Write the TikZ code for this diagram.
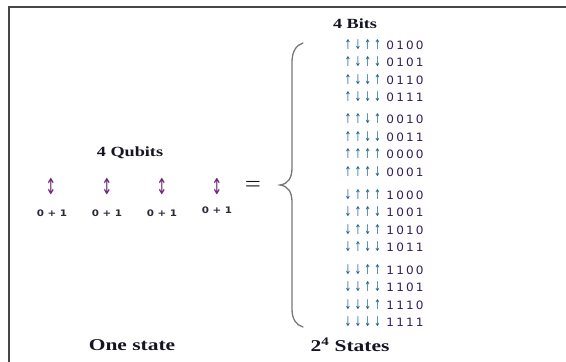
\documentclass[tikz,border=0pt]{standalone}
\usepackage{fontspec}
\setmainfont{Liberation Serif}
\newfontfamily\titlefont[FakeStretch=1.3]{Liberation Serif}
\newfontfamily\digitfont[FakeStretch=1.05]{DejaVu Sans}
\newfontfamily\arrowfont[FakeStretch=0.6]{DejaVu Sans}
\newfontfamily\labelfont[FakeStretch=1.15]{DejaVu Sans}

\definecolor{framec}{RGB}{70,70,70}
\definecolor{bracec}{RGB}{120,120,120}
\definecolor{arrowc}{RGB}{25,95,140}
\definecolor{digitc}{RGB}{50,30,90}
\definecolor{qubitc}{RGB}{110,40,115}
\definecolor{labelc}{RGB}{45,40,55}
\definecolor{titlec}{RGB}{20,20,35}

% one fixed-width cell per glyph, so every column lines up
\newcommand\bitcell[1]{\makebox[9.8pt]{#1}}
\def\fourcells#1#2#3#4{\bitcell{#1}\bitcell{#2}\bitcell{#3}\bitcell{#4}}
\newcommand\spinrow[2]{{\arrowfont\fontsize{13.5}{15}\selectfont\color{arrowc}\fourcells#1}\hspace{3pt}{\digitfont\fontsize{11.5}{13}\selectfont\color{digitc}\fourcells#2}}

\tikzset{
  title/.style={font=\titlefont\bfseries\fontsize{14}{16}\selectfont, text=titlec, inner sep=0pt},
  caption/.style={font=\titlefont\bfseries\fontsize{16.5}{19}\selectfont, text=titlec, inner sep=0pt},
  staterow/.style={inner sep=0pt, anchor=base west},
  qubit/.style={font=\arrowfont\fontsize{22}{24}\selectfont, text=qubitc, inner sep=0pt},
  superpos/.style={font=\labelfont\bfseries\fontsize{9}{11}\selectfont, text=labelc, inner sep=0pt},
}

\begin{document}
\begin{tikzpicture}[x=1pt,y=-1pt]
\useasboundingbox (0,0) rectangle (566,362);

% frame: only the top and left edges fall inside the picture
\draw[framec, line width=1.5pt] (9,362) -- (9,7) -- (566,7);

% left side: four qubits
\node[title] (qtitle) at (130,153) {4 Qubits};
\foreach \x/\n in {51/1,107/2,162/3,217/4} {
  \node[qubit] (q\n) at (\x,187) {↕};
}
\node[superpos] (s1) at (52,213) {0 + 1};
\node[superpos] (s2) at (107,213) {0 + 1};
\node[superpos] (s3) at (162,213) {0 + 1};
\node[superpos] (s4) at (217,210) {0 + 1};
\node[font=\titlefont\fontsize{22}{24}\selectfont, text=titlec, inner sep=0pt] (eq) at (253,186) {=};

% curly brace gathering the sixteen states
\draw[bracec, line width=1.3pt, line cap=round]
  (303,43) .. controls (296,45) and (292,52) .. (292,62)
  -- (292,168) .. controls (292,178) and (288,184) .. (280,185)
  .. controls (288,186) and (292,192) .. (292,202)
  -- (292,309) .. controls (292,319) and (296,325) .. (303,327);

% right side: the sixteen classical states
\node[title] (btitle) at (355,24) {4 Bits};

\node[staterow] (r1)  at (343,49)  {\spinrow{↑↓↑↑}{0100}};
\node[staterow] (r2)  at (343,66)  {\spinrow{↑↓↑↓}{0101}};
\node[staterow] (r3)  at (343,84)  {\spinrow{↑↓↓↑}{0110}};
\node[staterow] (r4)  at (343,101) {\spinrow{↑↓↓↓}{0111}};

\node[staterow] (r5)  at (343,123) {\spinrow{↑↑↓↑}{0010}};
\node[staterow] (r6)  at (343,141) {\spinrow{↑↑↓↓}{0011}};
\node[staterow] (r7)  at (343,158) {\spinrow{↑↑↑↑}{0000}};
\node[staterow] (r8)  at (343,176) {\spinrow{↑↑↑↓}{0001}};

\node[staterow] (r9)  at (343,199) {\spinrow{↓↑↑↑}{1000}};
\node[staterow] (r10) at (343,216) {\spinrow{↓↑↑↓}{1001}};
\node[staterow] (r11) at (343,234) {\spinrow{↓↑↓↑}{1010}};
\node[staterow] (r12) at (343,251) {\spinrow{↓↑↓↓}{1011}};

\node[staterow] (r13) at (343,274) {\spinrow{↓↓↑↑}{1100}};
\node[staterow] (r14) at (343,291) {\spinrow{↓↓↑↓}{1101}};
\node[staterow] (r15) at (343,309) {\spinrow{↓↓↓↑}{1110}};
\node[staterow] (r16) at (343,326) {\spinrow{↓↓↓↓}{1111}};

% captions
\node[caption] (one) at (132,345) {One state};
\node[caption] (many) at (350,345) {2\textsuperscript{4} States};
\end{tikzpicture}
\end{document}
